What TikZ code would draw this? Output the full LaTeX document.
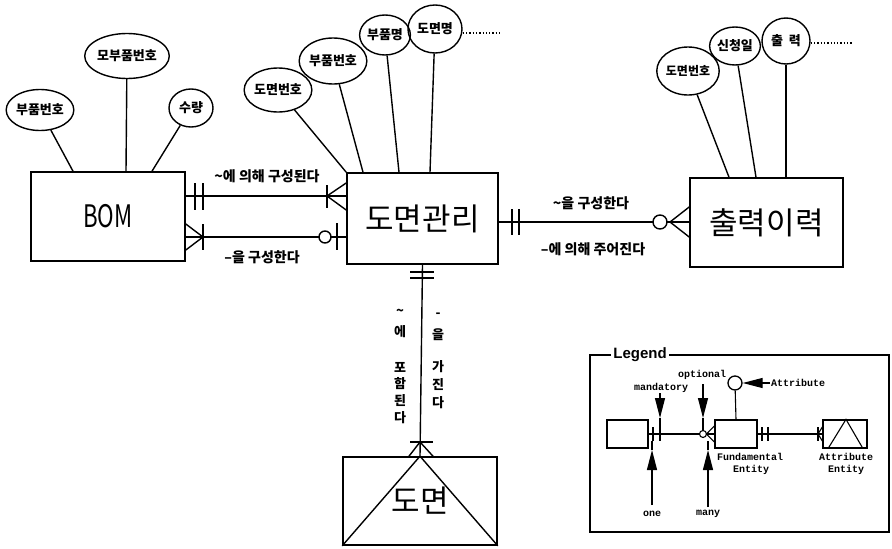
\documentclass[tikz,border=0pt]{standalone}
\usepackage{fontspec}
\newfontfamily\kr{Noto Sans CJK KR}
\newfontfamily\lgmono{Liberation Mono}
\newfontfamily\lgsans{Liberation Sans}
\usetikzlibrary{shapes.geometric,arrows.meta}
\tikzset{
  ent/.style={draw, line width=1.6pt, inner sep=0pt, font=\kr\fontsize{31}{33}\selectfont},
  attr/.style={draw, ellipse, line width=1.4pt, inner sep=0pt, font=\kr\bfseries\fontsize{13}{14}\selectfont},
  ln/.style={line width=1.4pt},
  thin/.style={line width=1.1pt},
  lbl/.style={font=\kr\bfseries\fontsize{14}{15}\selectfont, inner sep=0pt},
  vch/.style={font=\kr\bfseries\fontsize{13}{14}\selectfont, inner sep=0pt},
  lgt/.style={font=\lgmono\bfseries\fontsize{10}{11}\selectfont, inner sep=0pt},
  lgbox/.style={draw, line width=1.3pt, inner sep=0pt},
  bigarrow/.style={line width=1.2pt, -{Triangle[length=20pt,width=10pt]}}
}
\begin{document}
\begin{tikzpicture}[x=1pt,y=-1pt]
\useasboundingbox (0,0) rectangle (892,549);
% entities
\node[ent, minimum width=154pt, minimum height=89pt] (bom) at (108,216.5) {\scalebox{0.72}[1]{BOM}};
\node[ent, minimum width=151pt, minimum height=91pt] (dm) at (422.5,218.5) {도면관리};
\node[ent, minimum width=153pt, minimum height=89pt] (out) at (766.5,222.5) {출력이력};
\node[ent, minimum width=154pt, minimum height=88pt] (dw) at (420,501) {도면};
\draw[ln] (dw.north) -- (dw.south west);
\draw[ln] (dw.north) -- (dw.south east);
% BOM attributes
\node[attr, minimum width=66pt, minimum height=41pt] (a1) at (40,110) {부품번호};
\node[attr, minimum width=76pt, minimum height=45pt] (a2) at (127,56) {모부품번호};
\node[attr, minimum width=44pt, minimum height=38pt] (a3) at (191,108) {수량};
\draw[ln] (a1) -- (73,0 |- bom.north);
\draw[ln] (a2) -- (126,0 |- bom.north);
\draw[ln] (a3) -- (152,0 |- bom.north);
% 도면관리 attributes
\node[attr, minimum width=56pt, minimum height=44pt] (b1) at (278,90) {도면번호};
\node[attr, minimum width=60pt, minimum height=46pt] (b2) at (333,61) {부품번호};
\node[attr, minimum width=50pt, minimum height=40pt] (b3) at (385,35) {부품명};
\node[attr, minimum width=54pt, minimum height=48pt] (b4) at (435,29) {도면명};
\draw[ln] (b1) -- (dm.north west);
\draw[ln] (b2) -- (363,0 |- dm.north);
\draw[ln] (b3) -- (399,0 |- dm.north);
\draw[ln] (b4) -- (430,0 |- dm.north);
\coordinate (d1) at (500,33);
\draw[line width=1.3pt, dotted] (b4.east |- 0,33) -- (d1);
% 출력이력 attributes
\node[attr, minimum width=52pt, minimum height=48pt, font=\kr\bfseries\fontsize{12}{13}\selectfont] (c1) at (688,71) {도면번호};
\node[attr, minimum width=50pt, minimum height=38pt] (c2) at (735,46) {신청일};
\node[attr, minimum width=48pt, minimum height=46pt] (c3) at (786,41) {출\ \ 력};
\draw[ln] (c1) -- (729,0 |- out.north);
\draw[ln] (c2) -- (756,0 |- out.north);
\draw[ln] (c3) -- (786,0 |- out.north);
\coordinate (d2) at (852,43);
\draw[line width=1.3pt, dotted] (c3.east |- 0,43) -- (d2);
% BOM -- 도면관리 (upper)
\draw[ln] (bom.east |- 0,196) -- (dm.west |- 0,196);
\draw[ln] (195,183) -- (195,210);
\draw[ln] (203,183) -- (203,210);
\draw[ln] (327,185) -- (327,208);
\draw[ln] (dm.west |- 0,183) -- (327,196) -- (dm.west |- 0,210);
\node[lbl] at (267,176) {\textasciitilde 에 의해 구성된다};
% BOM -- 도면관리 (lower)
\draw[ln] (bom.east |- 0,237) -- (319,237);
\draw[ln] (331,237) -- (dm.west |- 0,237);
\draw[ln] (325,237) circle[radius=6pt];
\draw[ln] (337,223) -- (337,250);
\draw[ln] (203,224) -- (203,250);
\draw[ln] (bom.east |- 0,224) -- (203,237) -- (bom.east |- 0,250);
\node[lbl] at (262,257) {–을 구성한다};
% 도면관리 -- 출력이력
\draw[ln] (dm.east |- 0,222) -- (653,222);
\draw[ln] (667,222) -- (out.west |- 0,222);
\draw[ln] (660,222) circle[radius=7pt];
\draw[ln] (512,209) -- (512,235);
\draw[ln] (519,209) -- (519,235);
\draw[ln] (out.west |- 0,207) -- (670,222) -- (out.west |- 0,237);
\node[lbl] at (591,203) {\textasciitilde 을 구성한다};
\node[lbl] at (593,249) {–에 의해 주어진다};
% 도면관리 -- 도면
\draw[ln] (dm.south) -- (dw.north);
\draw[ln] (410,272) -- (434,272);
\draw[ln] (410,278) -- (434,278);
\draw[ln] (410,442) -- (433,442);
\draw[ln] (409,0 |- dw.north) -- (dw.north |- 0,442) -- (433,0 |- dw.north);
\node[vch] at (400,312) {\textasciitilde};
\node[vch] at (400,332) {에};
\node[vch] at (400,367) {포};
\node[vch] at (400,384) {함};
\node[vch] at (400,401) {된};
\node[vch] at (400,418) {다};
\node[vch] at (438,315) {-};
\node[vch] at (438,335) {을};
\node[vch] at (438,367) {가};
\node[vch] at (438,385) {진};
\node[vch] at (438,403) {다};
% Legend
\draw[line width=2.2pt] (590,355) rectangle (889,532);
\node[font=\lgsans\bfseries\fontsize{15}{16}\selectfont, fill=white, inner sep=2pt] (lg) at (640,355) {Legend};
\node[lgbox, minimum width=41pt, minimum height=28pt] (lgA) at (627.5,434) {};
\node[lgbox, minimum width=42pt, minimum height=28pt] (lgF) at (736,434) {};
\node[lgbox, minimum width=44pt, minimum height=28pt] (lgE) at (845,434) {};
\node[draw, circle, line width=1.3pt, minimum size=14pt, inner sep=0pt] (lgC) at (735,383) {};
\draw[thin] (lgC) -- (lgF.north);
\draw[thin] (lgA.east) -- (699.5,434);
\draw[thin] (703,434) circle[radius=3.5pt];
\draw[thin] (706.5,434) -- (lgF.west);
\draw[thin] (lgF.west |- 0,426) -- (706.5,434) -- (lgF.west |- 0,442);
\draw[thin] (653,427) -- (653,441);
\draw[thin] (660,427) -- (660,441);
\draw[thin] (lgF.east) -- (lgE.west);
\draw[thin] (762,427) -- (762,441);
\draw[thin] (768,427) -- (768,441);
\draw[thin] (818,427) -- (818,441);
\draw[thin] (lgE.west |- 0,427) -- (818,434) -- (lgE.west |- 0,441);
\draw[thin] (828,0 |- lgE.south) -- (846,0 |- lgE.north) -- (863,0 |- lgE.south);
% legend arrows
\draw[bigarrow] (660,393) -- (660,418);
\draw[thin] (660,418) -- (660,427);
\draw[bigarrow] (703,384) -- (703,418);
\draw[thin] (703,418) -- (703,430);
\draw[bigarrow] (652,505) -- (652,450);
\draw[thin] (652,450) -- (652,441);
\draw[bigarrow] (708,507) -- (708,450);
\draw[thin] (708,450) -- (708,441);
\draw[bigarrow] (770,383) -- (lgC.east);
\node[lgt] at (661,388) {mandatory};
\node[lgt] at (702,375) {optional};
\node[lgt, anchor=west] at (771,383) {Attribute};
\node[lgt] at (750,457) {Fundamental};
\node[lgt] at (751,470) {Entity};
\node[lgt] at (846,457) {Attribute};
\node[lgt] at (846,470) {Entity};
\node[lgt] at (652,514) {one};
\node[lgt] at (708,514) {many};
\end{tikzpicture}
\end{document}
